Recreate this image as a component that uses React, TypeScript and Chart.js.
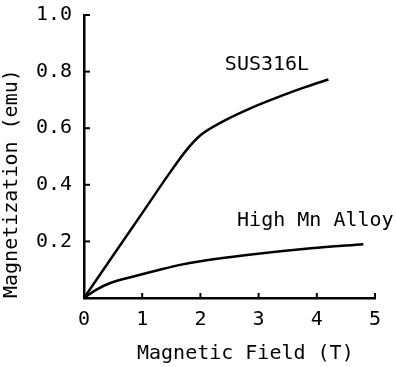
import React, { useEffect, useRef } from "react";
import { Chart, registerables } from "chart.js";

Chart.register(...registerables);

const fieldSUS = [0, 0.5, 1.0, 1.5, 1.75, 2.0, 2.35, 2.8, 3.4, 3.8, 4.2];
const magSUS = [0, 0.15, 0.3, 0.45, 0.52, 0.575, 0.62, 0.665, 0.715, 0.745, 0.772];
const fieldMn = [0, 0.2, 0.45, 0.85, 1.3, 1.65, 2.0, 2.8, 3.9, 4.8];
const magMn = [0, 0.028, 0.053, 0.076, 0.1, 0.117, 0.13, 0.152, 0.176, 0.19];
const xTicks = [0, 1, 2, 3, 4, 5];
const yTicks = [0, 0.2, 0.4, 0.6, 0.8, 1.0];
const seriesLabels = ["SUS316L", "High Mn Alloy"];
const xTitle = "Magnetic Field (T)";
const yTitle = "Magnetization (emu)";

const FONT = "'DejaVu Sans Mono', monospace";

const decor = {
  id: "decor",
  afterDraw(chart: any) {
    const { ctx, chartArea, scales } = chart;
    const xs = scales.x;
    const ys = scales.y;
    ctx.save();
    ctx.strokeStyle = "#000";
    ctx.lineWidth = 2;
    // inward ticks
    yTicks.forEach((v) => {
      if (v === 0) return;
      const py = ys.getPixelForValue(v);
      ctx.beginPath();
      ctx.moveTo(chartArea.left, py);
      ctx.lineTo(chartArea.left + 6, py);
      ctx.stroke();
    });
    xTicks.forEach((v) => {
      if (v === 0) return;
      const px = xs.getPixelForValue(v);
      ctx.beginPath();
      ctx.moveTo(px, chartArea.bottom);
      ctx.lineTo(px, chartArea.bottom - 5);
      ctx.stroke();
    });
    ctx.fillStyle = "#000";
    ctx.font = `20px ${FONT}`;
    ctx.textBaseline = "middle";
    ctx.textAlign = "left";
    ctx.fillText(seriesLabels[0], xs.getPixelForValue(2.42), ys.getPixelForValue(0.823));
    ctx.fillText(seriesLabels[1], xs.getPixelForValue(2.63), ys.getPixelForValue(0.272));
    ctx.fillText(xTitle, xs.getPixelForValue(0.91), chartArea.bottom + 56);
    ctx.restore();
  },
};

export default function App() {
  const ref = useRef<HTMLCanvasElement | null>(null);
  useEffect(() => {
    document.body.style.margin = "0";
    const chart = new Chart(ref.current as HTMLCanvasElement, {
      type: "line",
      data: {
        datasets: [
          {
            label: seriesLabels[0],
            data: fieldSUS.map((x, i) => ({ x, y: magSUS[i] })),
            borderColor: "#000",
            borderWidth: 2.5,
            pointRadius: 0,
            cubicInterpolationMode: "monotone",
          },
          {
            label: seriesLabels[1],
            data: fieldMn.map((x, i) => ({ x, y: magMn[i] })),
            borderColor: "#000",
            borderWidth: 2.5,
            pointRadius: 0,
            cubicInterpolationMode: "monotone",
          },
        ],
      },
      options: {
        animation: false,
        responsive: true,
        maintainAspectRatio: false,
        layout: { padding: { top: 15, right: 21, left: 0, bottom: 0 } },
        plugins: { legend: { display: false }, tooltip: { enabled: false } },
        scales: {
          x: {
            type: "linear",
            min: 0,
            max: 5,
            afterFit: (s: any) => {
              s.height = 69;
              s.paddingRight = 0;
              s.paddingLeft = 0;
            },
            afterBuildTicks: (s: any) => {
              s.ticks = xTicks.map((v) => ({ value: v }));
            },
            ticks: {
              color: "#000",
              padding: 10,
              font: { family: FONT, size: 20 },
              callback: (v: any) => String(v),
            },
            grid: { drawOnChartArea: false, drawTicks: false },
            border: { display: true, color: "#000", width: 2.5 },
          },
          y: {
            type: "linear",
            min: 0,
            max: 1,
            afterFit: (s: any) => {
              s.width = 84;
              s.paddingTop = 0;
              s.paddingBottom = 0;
            },
            afterBuildTicks: (s: any) => {
              s.ticks = yTicks.map((v) => ({ value: v }));
            },
            ticks: {
              color: "#000",
              padding: 12,
              font: { family: FONT, size: 20 },
              callback: (v: any) => (v === 0 ? "" : Number(v).toFixed(1)),
            },
            title: {
              display: true,
              text: yTitle,
              align: "start",
              color: "#000",
              font: { family: FONT, size: 20 },
              padding: { top: 0, bottom: 6 },
            },
            grid: { drawOnChartArea: false, drawTicks: false },
            border: { display: true, color: "#000", width: 2.5 },
          },
        },
      } as any,
      plugins: [decor],
    });
    return () => chart.destroy();
  }, []);
  return (
    <div style={{ position: "absolute", left: 0, top: 0, width: 396, height: 367 }}>
      <canvas ref={ref} />
    </div>
  );
}
